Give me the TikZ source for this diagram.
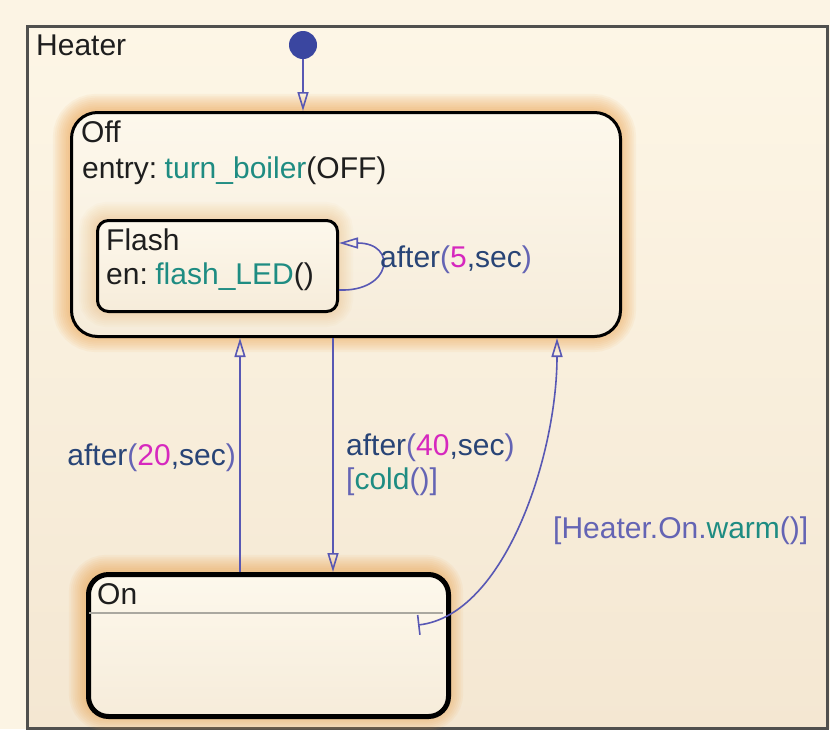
\documentclass[tikz,border=0pt]{standalone}
\usepackage{fontspec}
\setmainfont{Liberation Sans}
\usetikzlibrary{arrows.meta,calc}
\definecolor{bgc}{RGB}{252,244,228}
\definecolor{heatertop}{RGB}{253,246,230}
\definecolor{heaterbot}{RGB}{244,231,210}
\definecolor{statetop}{RGB}{253,248,236}
\definecolor{statebot}{RGB}{246,236,218}
\definecolor{glowc}{RGB}{236,160,72}
\definecolor{borderc}{RGB}{80,80,78}
\definecolor{txtc}{RGB}{30,30,30}
\definecolor{transc}{RGB}{88,88,180}
\definecolor{dotc}{RGB}{58,70,160}
\definecolor{tealc}{RGB}{30,140,130}
\definecolor{magc}{RGB}{214,40,190}
\definecolor{navyc}{RGB}{40,68,118}
\definecolor{violc}{RGB}{100,100,180}
\definecolor{sepc}{RGB}{170,168,160}
\newcommand{\kwd}[1]{\textcolor{navyc}{#1}}
\newcommand{\fnc}[1]{\textcolor{tealc}{#1}}
\newcommand{\nmb}[1]{\textcolor{magc}{#1}}
\newcommand{\vio}[1]{\textcolor{violc}{#1}}
\tikzset{
  txt/.style={anchor=base west, inner sep=0pt, text=txtc},
  stbox/.style={draw=black, anchor=north west, inner sep=0pt, top color=statetop, bottom color=statebot},
  trans/.style={draw=transc, line width=1.6pt},
  tri/.tip={Triangle[open, length=19pt, width=11pt, line width=1.6pt]},
}
\newcommand{\glowrect}[6]{%
  \foreach \i in {1,...,9}{\draw[glowc, opacity=#6, line width=\i*3.8pt, rounded corners=#5] (#1,#2) rectangle (#3,#4);}}
\begin{document}
\begin{tikzpicture}[x=1pt, y=-1pt, font=\fontsize{30}{36}\selectfont]
% background
\fill[bgc] (0,0) rectangle (830,729);
\useasboundingbox (0,0) rectangle (830,729);
% Heater superstate
\node[draw=borderc, line width=3pt, anchor=north west, inner sep=0pt,
      top color=heatertop, bottom color=heaterbot,
      minimum width=800pt, minimum height=702pt] (heater) at (26,25) {};
\node[txt] (heaterlbl) at (36,55) {Heater};
% glows
\glowrect{70}{111}{619}{335}{26pt}{0.075}
\glowrect{86}{572}{446}{714}{20pt}{0.075}
% Off state
\node[stbox, line width=3pt, rounded corners=26pt, minimum width=549pt, minimum height=224pt] (off) at (70,111) {};
\node[txt] (offlbl) at (81,142) {Off};
\node[txt] (offentry) at (82,178) {entry:\hspace{0.25em}\fnc{turn\_boiler}(OFF)};
% Flash substate
\glowrect{96}{219}{336}{310}{11pt}{0.035}
\node[stbox, line width=3pt, rounded corners=11pt, minimum width=240pt, minimum height=91pt] (flash) at (96,219) {};
\node[txt] (flashlbl) at (106,250) {Flash};
\node[txt] (flashen) at (106,284) {en:\hspace{0.25em}\fnc{flash\_LED}()};
% On state
\node[stbox, line width=5pt, rounded corners=20pt, minimum width=360pt, minimum height=142pt] (on) at (86,572) {};
\coordinate (sepl) at (89,613);
\coordinate (sepr) at (443,613);
\draw[sepc, line width=1.5pt] (sepl) -- (sepr);
\node[txt] (onlbl) at (97,604) {On};
% initial transition
\node[circle, fill=dotc, minimum size=28pt, inner sep=0pt] (init) at (303,45) {};
\draw[trans, -{tri}] (init) -- (init |- off.north);
% helper coordinates
\coordinate (x240) at (240,0);
\coordinate (x333) at (333,0);
\coordinate (x557) at (557,0);
\coordinate (y243) at (0,243);
\coordinate (y290) at (0,290);
\coordinate (warmstart) at (418,625);
% transitions
\draw[trans, -{tri}] (on.north -| x240) -- (off.south -| x240);
\draw[trans, -{tri}] (off.south -| x333) -- (on.north -| x333);
\draw[trans, {Bar[width=20pt, line width=1.6pt]}-{tri}] (warmstart) .. controls (505,615) and (557,455) .. (off.south -| x557);
\draw[trans, -{tri}] (flash.east |- y290) .. controls (392,292) and (398,243) .. (flash.east |- y243);
% labels
\node[txt, anchor=base west] (l5) at (380,267) {\kwd{after}\vio{(}\nmb{5}\kwd{,sec}\vio{)}};
\node[txt, anchor=base east] (l20) at (236,465) {\kwd{after}\vio{(}\nmb{20}\kwd{,sec}\vio{)}};
\node[txt] (l40) at (346,455) {\kwd{after}\vio{(}\nmb{40}\kwd{,sec}\vio{)}};
\node[txt] (lcold) at (346,489) {\vio{[}\fnc{cold}\vio{()]}};
\node[txt] (lwarm) at (553,538) {\vio{[Heater.On.}\fnc{warm}\vio{()]}};
\end{tikzpicture}
\end{document}
